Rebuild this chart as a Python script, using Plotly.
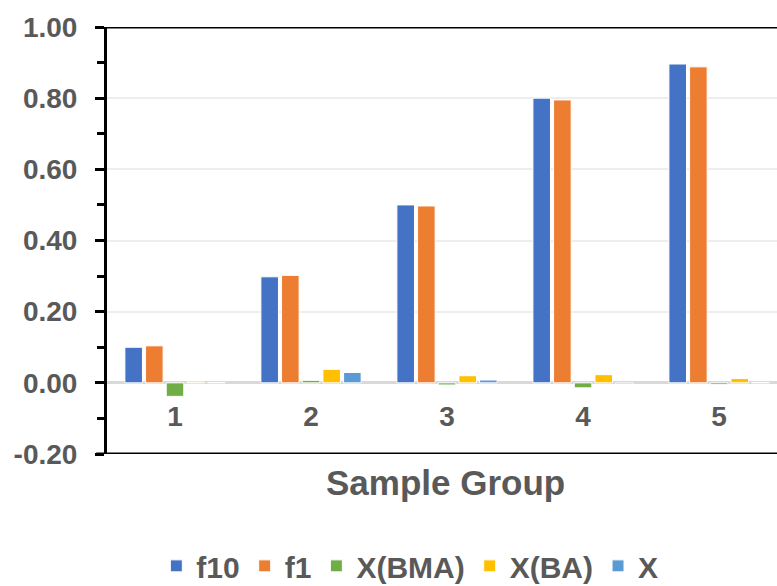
import plotly.graph_objects as go

categories = ["1", "2", "3", "4", "5"]
series_names = ["f10", "f1", "X(BMA)", "X(BA)", "X"]
f10 = [0.100, 0.298, 0.500, 0.800, 0.896]
f1 = [0.104, 0.302, 0.497, 0.795, 0.888]
x_bma = [-0.038, 0.007, -0.006, -0.014, -0.005]
x_ba = [0.002, 0.038, 0.020, 0.023, 0.012]
x_plain = [0.001, 0.029, 0.008, -0.003, 0.001]
colors = ["#4472C4", "#ED7D31", "#70AD47", "#FFC000", "#5B9BD5"]
y_ticks = [-0.2, 0.0, 0.2, 0.4, 0.6, 0.8, 1.0]
y_tick_text = ["-0.20", "0.00", "0.20", "0.40", "0.60", "0.80", "1.00"]

FONT = "Liberation Sans, Arial, sans-serif"
GREY = "#595959"

fig = go.Figure()
for name, vals, col in zip(series_names, [f10, f1, x_bma, x_ba, x_plain], colors):
    fig.add_trace(go.Bar(x=categories, y=vals, name=name,
                         marker=dict(color=col, line=dict(color="white", width=1))))

fig.update_layout(
    width=777, height=586,
    margin=dict(l=107, r=0, t=27, b=132, autoexpand=False),
    paper_bgcolor="white", plot_bgcolor="white",
    barmode="group", bargap=0.24, bargroupgap=0.15,
    font=dict(family=FONT, color=GREY, size=28, weight="bold"),
    showlegend=True,
    legend=dict(orientation="h", x=0.452, xanchor="center", y=-0.262, yanchor="middle",
                font=dict(family=FONT, size=30, color=GREY, weight="bold"),
                itemwidth=30, traceorder="normal"),
    xaxis=dict(type="category", range=[-0.5, 4.426], anchor="free", position=0.2/1.2,
               showline=False, ticks="", showgrid=False, zeroline=False,
               tickfont=dict(family=FONT, size=28, color=GREY, weight="bold"),
               ticklabelstandoff=14),
    yaxis=dict(range=[-0.2, 1.0], tickvals=y_ticks, ticktext=y_tick_text,
               showline=True, linecolor="black", linewidth=3,
               ticks="outside", ticklen=9, tickwidth=3, tickcolor="black",
               minor=dict(dtick=0.1, ticks="outside", ticklen=7, tickwidth=3, tickcolor="black", showgrid=False),
               showgrid=True, gridcolor="#eeeeee", gridwidth=1.5,
               zeroline=True, zerolinecolor="#d9d9d9", zerolinewidth=2.5,
               tickfont=dict(family=FONT, size=28, color=GREY, weight="bold"),
               ticklabelstandoff=12),
)

# top and bottom border lines of the plot area
for yv in [1.0, -0.2]:
    fig.add_shape(type="line", xref="paper", yref="y", x0=-0.016, x1=1.0, y0=yv, y1=yv,
                  line=dict(color="black", width=3), layer="above")

fig.add_annotation(text="Sample Group", xref="paper", yref="paper",
                   x=(446 - 107) / 670, y=(454 - 482) / 427, xanchor="center", yanchor="middle",
                   showarrow=False, font=dict(family=FONT, size=35, color=GREY, weight="bold"))

fig.write_html("out.html")
